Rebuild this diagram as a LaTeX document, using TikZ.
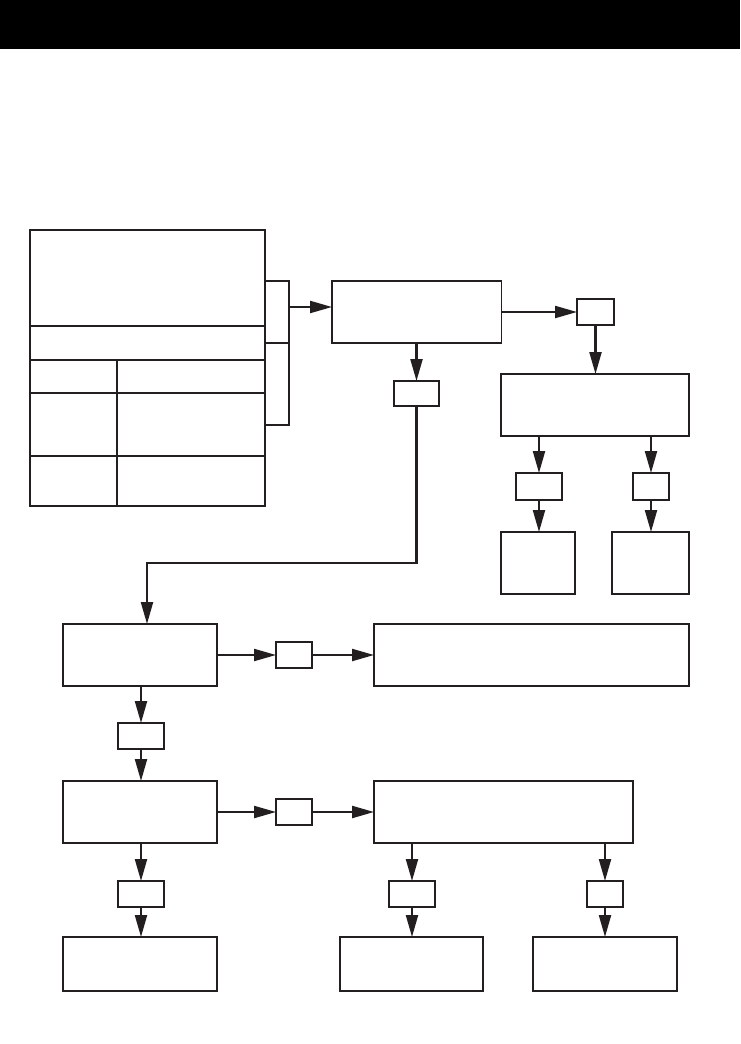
\documentclass[tikz,border=0pt]{standalone}
\usetikzlibrary{arrows.meta}
\definecolor{ink}{RGB}{35,31,32}
\begin{document}
\begin{tikzpicture}[x=1pt,y=-1pt,
  bigbox/.style={draw=ink,line width=1.1pt,inner sep=0pt,outer sep=0pt,minimum height=62pt},
  smallbox/.style={draw=ink,line width=1.8pt,inner sep=0pt,outer sep=0pt,minimum height=26pt},
  conn/.style={draw=ink,line width=2.2pt},
  arr/.style={conn,-{Triangle[length=22pt,width=12pt]}}]
\useasboundingbox (0,0) rectangle (740,1044);
\fill[black] (0,0) rectangle (740,49);
% table
\node[bigbox,minimum width=235pt,minimum height=276pt] (T) at (147.5,368) {};
\foreach \yy in {326,360,393,456} \draw[ink,line width=1.1pt] (T.west |- 0,\yy) -- (T.east |- 0,\yy);
\draw[ink,line width=1.1pt] (117,360) -- (T.south -| 117,0);
% nodes
\node[bigbox,minimum width=169.5pt] (A) at (416.75,312) {};
\node[smallbox,minimum width=37pt] (s1) at (595.5,312) {};
\node[bigbox,minimum width=188pt] (B) at (595,405) {};
\node[smallbox,minimum width=46pt,minimum height=27pt] (s2) at (539,486.5) {};
\node[smallbox,minimum width=36pt,minimum height=27pt] (s3) at (651,486.5) {};
\node[bigbox,minimum width=74pt] (C) at (538,563) {};
\node[bigbox,minimum width=77pt] (D) at (650.5,563) {};
\node[smallbox,minimum width=45pt,minimum height=25pt] (s4) at (416.5,393.5) {};
\node[bigbox,minimum width=154pt] (E) at (140,655) {};
\node[smallbox,minimum width=36pt] (s5) at (294,655) {};
\node[bigbox,minimum width=315pt] (F) at (531.5,655) {};
\node[smallbox,minimum width=46pt] (s6) at (141,736) {};
\node[bigbox,minimum width=154pt] (G) at (140,812) {};
\node[smallbox,minimum width=36pt] (s7) at (294,812) {};
\node[bigbox,minimum width=259pt] (H) at (503.5,812) {};
\node[smallbox,minimum width=46pt] (s8) at (141,894) {};
\node[bigbox,minimum width=154pt,minimum height=54pt] (I) at (140,964) {};
\node[smallbox,minimum width=46pt] (s9) at (412,894) {};
\node[bigbox,minimum width=143pt,minimum height=54pt] (J) at (411.5,964) {};
\node[smallbox,minimum width=36pt] (s10) at (605,894) {};
\node[bigbox,minimum width=144pt,minimum height=54pt] (K) at (605,964) {};
% bracket
\coordinate (b1) at (265,281);
\coordinate (b2) at (265,343);
\coordinate (b3) at (265,425);
\coordinate (bm) at (289,307);
\draw[conn,line join=miter] (b1) -- (289,281) -- (289,425) -- (b3);
\draw[conn] (b2) -- (289,343);
\draw[arr] (bm) -- (bm -| A.west);
% connectors
\draw[arr] (A.east) -- (s1.west);
\draw[arr] (s1.south) -- (s1.south |- B.north);
\draw[arr] (s2.north |- B.south) -- (s2.north);
\draw[arr] (s3.north |- B.south) -- (s3.north);
\draw[arr] (s2.south) -- (s2.south |- C.north);
\draw[arr] (s3.south) -- (s3.south |- D.north);
\draw[arr] (s4.north |- A.south) -- (s4.north);
\coordinate (r1) at (147,563);
\draw[arr,line join=miter] (s4.south) |- (r1) -- (r1 |- E.north);
\draw[arr] (E.east) -- (s5.west);
\draw[arr] (s5.east) -- (F.west);
\draw[arr] (s6.north |- E.south) -- (s6.north);
\draw[arr] (s6.south) -- (s6.south |- G.north);
\draw[arr] (G.east) -- (s7.west);
\draw[arr] (s7.east) -- (H.west);
\draw[arr] (s8.north |- G.south) -- (s8.north);
\draw[arr] (s8.south) -- (s8.south |- I.north);
\draw[arr] (s9.north |- H.south) -- (s9.north);
\draw[arr] (s9.south) -- (s9.south |- J.north);
\draw[arr] (s10.north |- H.south) -- (s10.north);
\draw[arr] (s10.south) -- (s10.south |- K.north);
\end{tikzpicture}
\end{document}
